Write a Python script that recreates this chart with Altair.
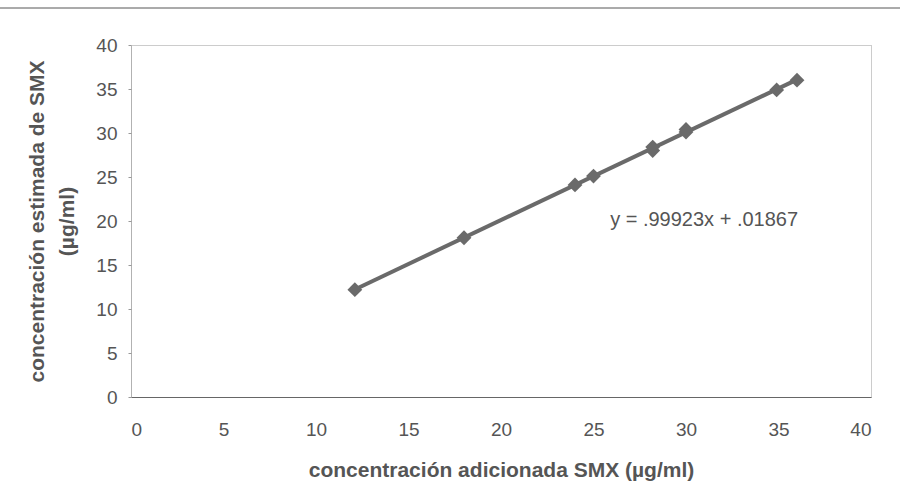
import altair as alt
import pandas as pd

x_added = [12.1, 18.0, 24.0, 25.0, 28.2, 28.2, 30.0, 30.0, 34.9, 36.0]
y_est = [12.2, 18.1, 24.1, 25.1, 28.0, 28.4, 30.1, 30.4, 34.9, 36.0]
equation = ["y = .99923x + .01867"]
eq_x = [25.9]
eq_y = [20.1]

df = pd.DataFrame({"x": x_added, "y": y_est})
eq_df = pd.DataFrame({"x": eq_x, "y": eq_y, "t": equation})

gray = "#6a6a6a"
font = "Liberation Sans"

xs = alt.Scale(domain=[0, 40], nice=False)
ys = alt.Scale(domain=[0, 40], nice=False)

x_axis = alt.Axis(values=list(range(0, 41, 5)), grid=False, ticks=False, domainColor="#666",
                  domainWidth=1, labelFontSize=19, labelColor="#555", labelFont=font,
                  labelPadding=23, title="concentración adicionada SMX (µg/ml)",
                  titleFontSize=21, titleFont=font, titleColor="#555", titleFontWeight="bold",
                  titlePadding=20)
y_axis = alt.Axis(values=list(range(0, 41, 5)), grid=False, tickSize=3, tickColor="#999",
                  domainColor="#999", domainDash=[1, 1], labelFontSize=19, labelColor="#555",
                  labelFont=font, labelPadding=11,
                  title=["concentración estimada de SMX", "(µg/ml)"],
                  titleFontSize=21, titleFont=font, titleColor="#555", titleFontWeight="bold",
                  titleLineHeight=30, titlePadding=18)

pts = alt.Chart(df).mark_point(shape="diamond", filled=True, size=220, color=gray, opacity=1).encode(
    x=alt.X("x:Q", scale=xs, axis=x_axis),
    y=alt.Y("y:Q", scale=ys, axis=y_axis),
)

trend = alt.Chart(df).transform_regression("x", "y").mark_line(color=gray, strokeWidth=4).encode(
    x=alt.X("x:Q", scale=xs),
    y=alt.Y("y:Q", scale=ys),
)

txt = alt.Chart(eq_df).mark_text(align="left", baseline="middle", fontSize=20, font=font,
                                 color="#555").encode(
    x=alt.X("x:Q", scale=xs), y=alt.Y("y:Q", scale=ys), text="t:N")

top_rule = alt.Chart(df).mark_rule(color="#aaa", strokeWidth=1).encode(
    x=alt.value(-131), x2=alt.value(769), y=alt.value(-37))

chart = alt.layer(top_rule, trend, pts, txt).properties(
    width=740, height=352,
    autosize=alt.AutoSizeParams(type="none"),
    padding={"left": 131, "top": 45, "right": 29, "bottom": 107},
).configure_view(stroke="#999", strokeDash=[1, 1], strokeWidth=1)

chart.save("out.html", embed_options={"renderer": "svg", "actions": False})
